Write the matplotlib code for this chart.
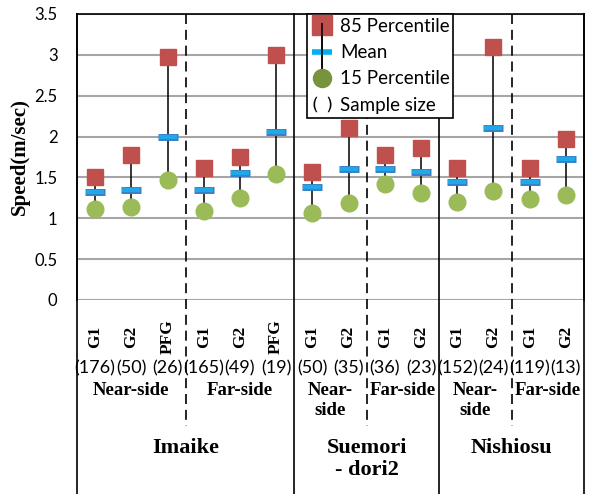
import matplotlib
matplotlib.use('Agg')
import matplotlib.pyplot as plt
import matplotlib.transforms as mtransforms
from matplotlib.lines import Line2D

# categories, left to right
groups = ['G1', 'G2', 'PFG', 'G1', 'G2', 'PFG', 'G1', 'G2', 'G1', 'G2', 'G1', 'G2', 'G1', 'G2']
samples = ['(176)', '(50)', '(26)', '(165)', '(49)', '(19)', '(50)', '(35)', '(36)', '(23)',
           '(152)', '(24)', '(119)', '(13)']
p85 = [1.50, 1.77, 2.97, 1.61, 1.75, 3.00, 1.57, 2.11, 1.77, 1.86, 1.61, 3.10, 1.61, 1.97]
mean = [1.32, 1.35, 2.00, 1.35, 1.56, 2.06, 1.38, 1.60, 1.60, 1.57, 1.44, 2.11, 1.44, 1.73]
p15 = [1.11, 1.14, 1.47, 1.09, 1.25, 1.54, 1.06, 1.19, 1.42, 1.31, 1.20, 1.33, 1.23, 1.29]

sides = ['Near-side', 'Far-side', 'Near-\nside', 'Far-side', 'Near-\nside', 'Far-side']
side_spans = [(0, 2), (3, 5), (6, 7), (8, 9), (10, 11), (12, 13)]
sites = ['Imaike', 'Suemori\n- dori2', 'Nishiosu']
site_spans = [(0, 5), (6, 9), (10, 13)]

W, H = 592, 494
fig = plt.figure(figsize=(W / 100, H / 100), dpi=100)
ax = fig.add_axes([77 / W, 1 - 300 / H, (584 - 77) / W, (300 - 14) / H])

x = list(range(len(groups)))
ax.vlines(x, p15, p85, color='black', lw=1.1, zorder=3)
ax.plot(x, mean, ls='none', marker='_', ms=15, mew=5, color='#3a7fc4', zorder=4)
ax.plot(x, mean, ls='none', marker='_', ms=13.5, mew=3, color='#1fa8ea', zorder=5)
ax.plot(x, p85, ls='none', marker='s', ms=11, color='#c0504d', zorder=6)
ax.plot(x, p15, ls='none', marker='o', ms=12, color='#9bbb59', zorder=6)

ax.set_xlim(-0.5, len(groups) - 0.5)
ax.set_ylim(0, 3.5)
ax.set_yticks([0, 0.5, 1, 1.5, 2, 2.5, 3, 3.5])
ax.set_yticklabels(['0', '0.5', '1', '1.5', '2', '2.5', '3', '3.5'], fontfamily='Lato', fontsize=12)
ax.tick_params(axis='y', length=0, pad=14)
ax.set_xticks([])
ax.grid(axis='y', color='#a6a6a6', lw=1.5)
ax.set_axisbelow(True)
ax.spines['bottom'].set_visible(False)
for s in ['top', 'left', 'right']:
    ax.spines[s].set_color('black')
    ax.spines[s].set_linewidth(1.2)
ax.set_ylabel('Speed(m/sec)', fontfamily='Liberation Serif', fontweight='bold', fontsize=15, labelpad=3)

# labels and separators below the plot
blend = mtransforms.blended_transform_factory(ax.transData, fig.transFigure)
fy = lambda py: 1 - py / H
serif = dict(fontfamily='Liberation Serif', fontweight='bold')

for i, g in enumerate(groups):
    ax.text(i, fy(337), g, transform=blend, rotation=90, ha='center', va='center', fontsize=12.5, **serif)
    ax.text(i, fy(368), samples[i], transform=blend, ha='center', va='center', fontsize=13, fontfamily='Lato')

for lab, (a, b) in zip(sides, side_spans):
    ax.text((a + b) / 2, fy(382), lab, transform=blend, ha='center', va='top', fontsize=13.5,
            linespacing=1.25, **serif)

for lab, (a, b) in zip(sites, site_spans):
    ax.text((a + b) / 2, fy(438), lab, transform=blend, ha='center', va='top', fontsize=16,
            linespacing=1.15, **serif)

for xv in [-0.5, 5.5, 9.5, 13.5]:
    ax.plot([xv, xv], [fy(14), fy(494)], transform=blend, color='black', lw=1.2, clip_on=False, zorder=7)
for xv in [2.5, 7.5, 11.5]:
    ax.plot([xv, xv], [fy(14), fy(426)], transform=blend, color='black', lw=1.2, ls=(0, (6, 3.5)),
            clip_on=False, zorder=7)

# legend
h85 = (Line2D([], [], ls='none', marker=3, ms=21, mew=1.1, color='black'),
       Line2D([], [], ls='none', marker='s', ms=14, color='#c0504d'))
hmean = (Line2D([], [], ls='none', marker=2, ms=21, mew=1.1, color='black'),
         Line2D([], [], ls='none', marker=3, ms=21, mew=1.1, color='black'),
         Line2D([], [], ls='none', marker='_', ms=15, mew=4, color='#00b0f0'))
h15 = (Line2D([], [], ls='none', marker=2, ms=21, mew=1.1, color='black'),
       Line2D([], [], ls='none', marker='o', ms=13, color='#77933c'))
hss = Line2D([], [], ls='none', marker=r'$(\;\,)$', ms=13, color='black', mew=0)
leg = ax.legend([h85, hmean, h15, hss], ['85 Percentile', 'Mean', '15 Percentile', 'Sample size'],
                loc='upper left', bbox_to_anchor=((307 - 77) / 507, 1.0), borderaxespad=0,
                fancybox=False, framealpha=1, edgecolor='black', prop=dict(family='Lato', size=13.5),
                handlelength=1.2, handletextpad=0.35, labelspacing=0.5, borderpad=0.2)
leg.get_frame().set_linewidth(1.2)
leg.set_zorder(10)

fig.savefig('out.png', dpi=100)
